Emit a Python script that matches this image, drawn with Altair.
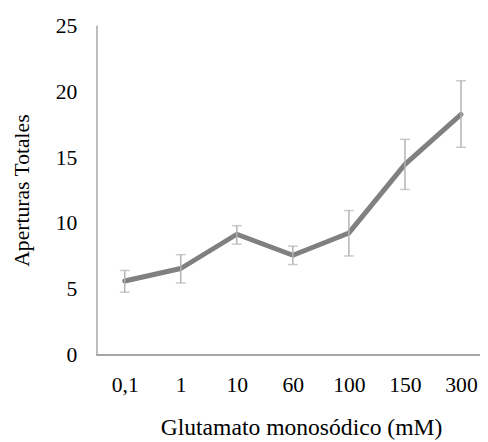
import altair as alt
import pandas as pd

categories = ["0,1", "1", "10", "60", "100", "150", "300"]
means = [5.6, 6.55, 9.15, 7.55, 9.25, 14.45, 18.25]
upper = [6.4, 7.6, 9.8, 8.25, 10.95, 16.35, 20.8]
lower = [4.75, 5.45, 8.4, 6.85, 7.5, 12.55, 15.75]

df = pd.DataFrame({"cat": categories, "mean": means, "hi": upper, "lo": lower})

FONT = "Liberation Serif, Times New Roman, serif"
xscale = alt.Scale(type="point", domain=categories, range=[28.7, 370.7], padding=0)
yscale = alt.Scale(domain=[0, 25])

x = alt.X("cat:N", scale=xscale, sort=categories,
          axis=alt.Axis(title="Glutamato monosódico (mM)", labelAngle=0, ticks=False,
                        labelPadding=20, titlePadding=21, titleX=208, grid=False,
                        domain=False))
y = alt.Y("mean:Q", scale=yscale,
          axis=alt.Axis(title="Aperturas Totales", values=[0, 5, 10, 15, 20, 25], ticks=False,
                        labelPadding=20, titlePadding=22, grid=False, titleFontSize=22,
                        domainColor="#a6a6a6", domainWidth=1.5))

base = alt.Chart(df)
xaxis_line = base.mark_rule(color="#a6a6a6", strokeWidth=1.5).encode(
    x=alt.value(0), x2=alt.value(390), y=alt.value(335))
rules = base.mark_rule(color="#b3b3b3", strokeWidth=1.5).encode(
    x=alt.X("cat:N", scale=xscale, sort=categories),
    y=alt.Y("lo:Q", scale=yscale), y2="hi:Q")
caps_hi = base.mark_tick(color="#b3b3b3", thickness=1.5, size=10, orient="horizontal").encode(
    x=alt.X("cat:N", scale=xscale, sort=categories), y=alt.Y("hi:Q", scale=yscale))
caps_lo = base.mark_tick(color="#b3b3b3", thickness=1.5, size=10, orient="horizontal").encode(
    x=alt.X("cat:N", scale=xscale, sort=categories), y=alt.Y("lo:Q", scale=yscale))
line = base.mark_line(color="#808080", strokeWidth=5, strokeCap="round", strokeJoin="round").encode(
    x=x, y=y)

chart = alt.layer(line, xaxis_line, rules, caps_hi, caps_lo).properties(
    width=390, height=335,
    autosize=alt.AutoSizeParams(type="none"),
    padding={"left": 90, "top": 14, "right": 0, "bottom": 85},
).configure_axis(
    labelFont=FONT, titleFont=FONT, labelFontSize=22, titleFontSize=24,
    labelColor="#000000", titleColor="#000000", titleFontWeight="normal",
).configure_view(stroke=None)

chart.save("out.html", embed_options={"renderer": "svg", "actions": False})
